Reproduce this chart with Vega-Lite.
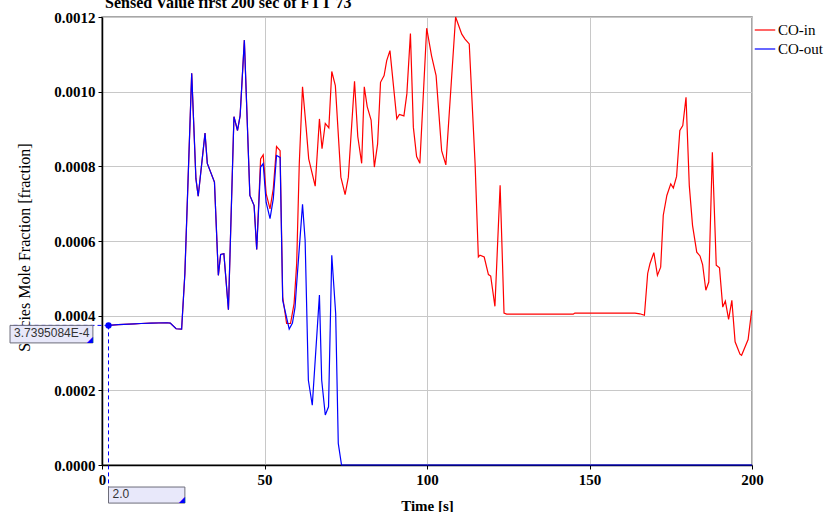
{
  "$schema": "https://vega.github.io/schema/vega-lite/v6.json",
  "width": 650,
  "height": 448,
  "autosize": {"type": "none"},
  "padding": {"left": 102, "top": 17, "right": 75, "bottom": 47},
  "background": "white",
  "title": {
    "text": "Sensed Value first 200 sec of FTT 73",
    "anchor": "start",
    "frame": "group",
    "font": "Liberation Serif",
    "fontSize": 16,
    "fontWeight": "bold",
    "color": "black",
    "baseline": "alphabetic",
    "offset": 0,
    "dy": 14,
    "dx": 3
  },
  "datasets": {
    "series": [
      {"t": 2, "v": 0.000374, "s": "CO-in"},
      {"t": 5, "v": 0.000376, "s": "CO-in"},
      {"t": 10, "v": 0.000378, "s": "CO-in"},
      {"t": 12, "v": 0.000379, "s": "CO-in"},
      {"t": 15, "v": 0.00038, "s": "CO-in"},
      {"t": 20, "v": 0.000381, "s": "CO-in"},
      {"t": 21, "v": 0.00038, "s": "CO-in"},
      {"t": 22.8, "v": 0.000365, "s": "CO-in"},
      {"t": 24.5, "v": 0.000364, "s": "CO-in"},
      {"t": 25.5, "v": 0.000513, "s": "CO-in"},
      {"t": 27.6, "v": 0.001049, "s": "CO-in"},
      {"t": 28.9, "v": 0.000767, "s": "CO-in"},
      {"t": 29.6, "v": 0.00072, "s": "CO-in"},
      {"t": 31.7, "v": 0.000889, "s": "CO-in"},
      {"t": 32.4, "v": 0.000808, "s": "CO-in"},
      {"t": 34.6, "v": 0.000758, "s": "CO-in"},
      {"t": 35.8, "v": 0.000508, "s": "CO-in"},
      {"t": 36.5, "v": 0.000564, "s": "CO-in"},
      {"t": 37.5, "v": 0.000566, "s": "CO-in"},
      {"t": 38.9, "v": 0.000416, "s": "CO-in"},
      {"t": 40.6, "v": 0.000933, "s": "CO-in"},
      {"t": 41.7, "v": 0.000896, "s": "CO-in"},
      {"t": 42.5, "v": 0.000936, "s": "CO-in"},
      {"t": 43.8, "v": 0.001138, "s": "CO-in"},
      {"t": 45.5, "v": 0.000722, "s": "CO-in"},
      {"t": 46.8, "v": 0.000695, "s": "CO-in"},
      {"t": 47.6, "v": 0.000577, "s": "CO-in"},
      {"t": 48.8, "v": 0.00082, "s": "CO-in"},
      {"t": 49.6, "v": 0.000831, "s": "CO-in"},
      {"t": 50.5, "v": 0.000727, "s": "CO-in"},
      {"t": 51.7, "v": 0.000686, "s": "CO-in"},
      {"t": 52.7, "v": 0.00074, "s": "CO-in"},
      {"t": 53.7, "v": 0.000853, "s": "CO-in"},
      {"t": 54.8, "v": 0.000842, "s": "CO-in"},
      {"t": 55.6, "v": 0.00045, "s": "CO-in"},
      {"t": 56.8, "v": 0.000379, "s": "CO-in"},
      {"t": 58, "v": 0.000379, "s": "CO-in"},
      {"t": 59.1, "v": 0.000432, "s": "CO-in"},
      {"t": 59.9, "v": 0.000539, "s": "CO-in"},
      {"t": 60.7, "v": 0.000807, "s": "CO-in"},
      {"t": 61.7, "v": 0.001013, "s": "CO-in"},
      {"t": 62.8, "v": 0.000905, "s": "CO-in"},
      {"t": 63.6, "v": 0.00082, "s": "CO-in"},
      {"t": 65.6, "v": 0.000747, "s": "CO-in"},
      {"t": 66.9, "v": 0.000927, "s": "CO-in"},
      {"t": 67.7, "v": 0.000847, "s": "CO-in"},
      {"t": 68.7, "v": 0.000915, "s": "CO-in"},
      {"t": 69.8, "v": 0.000903, "s": "CO-in"},
      {"t": 70.7, "v": 0.001054, "s": "CO-in"},
      {"t": 71.8, "v": 0.001016, "s": "CO-in"},
      {"t": 73.5, "v": 0.000771, "s": "CO-in"},
      {"t": 74.8, "v": 0.000724, "s": "CO-in"},
      {"t": 75.8, "v": 0.000771, "s": "CO-in"},
      {"t": 77.7, "v": 0.001028, "s": "CO-in"},
      {"t": 78.7, "v": 0.00088, "s": "CO-in"},
      {"t": 79.9, "v": 0.000808, "s": "CO-in"},
      {"t": 80.7, "v": 0.001013, "s": "CO-in"},
      {"t": 81.6, "v": 0.00096, "s": "CO-in"},
      {"t": 82.8, "v": 0.000924, "s": "CO-in"},
      {"t": 83.8, "v": 0.000798, "s": "CO-in"},
      {"t": 84.8, "v": 0.00086, "s": "CO-in"},
      {"t": 85.7, "v": 0.001025, "s": "CO-in"},
      {"t": 86.8, "v": 0.001043, "s": "CO-in"},
      {"t": 87.6, "v": 0.001083, "s": "CO-in"},
      {"t": 88.6, "v": 0.00111, "s": "CO-in"},
      {"t": 90.7, "v": 0.000927, "s": "CO-in"},
      {"t": 91.5, "v": 0.000939, "s": "CO-in"},
      {"t": 92.9, "v": 0.000935, "s": "CO-in"},
      {"t": 93.8, "v": 0.000994, "s": "CO-in"},
      {"t": 94.9, "v": 0.001156, "s": "CO-in"},
      {"t": 95.8, "v": 0.000905, "s": "CO-in"},
      {"t": 96.8, "v": 0.000826, "s": "CO-in"},
      {"t": 97.8, "v": 0.000808, "s": "CO-in"},
      {"t": 99.9, "v": 0.00117, "s": "CO-in"},
      {"t": 101.4, "v": 0.001096, "s": "CO-in"},
      {"t": 102.8, "v": 0.001043, "s": "CO-in"},
      {"t": 104.5, "v": 0.000842, "s": "CO-in"},
      {"t": 105.8, "v": 0.000804, "s": "CO-in"},
      {"t": 108.8, "v": 0.0012, "s": "CO-in"},
      {"t": 110.7, "v": 0.001154, "s": "CO-in"},
      {"t": 111.7, "v": 0.001141, "s": "CO-in"},
      {"t": 113, "v": 0.001128, "s": "CO-in"},
      {"t": 114.8, "v": 0.000807, "s": "CO-in"},
      {"t": 115.8, "v": 0.000557, "s": "CO-in"},
      {"t": 116.3, "v": 0.000562, "s": "CO-in"},
      {"t": 117.6, "v": 0.000557, "s": "CO-in"},
      {"t": 118.9, "v": 0.00051, "s": "CO-in"},
      {"t": 119.6, "v": 0.000506, "s": "CO-in"},
      {"t": 120.9, "v": 0.000425, "s": "CO-in"},
      {"t": 122.5, "v": 0.000749, "s": "CO-in"},
      {"t": 123.7, "v": 0.000407, "s": "CO-in"},
      {"t": 124.5, "v": 0.000404, "s": "CO-in"},
      {"t": 145, "v": 0.000404, "s": "CO-in"},
      {"t": 145.5, "v": 0.000407, "s": "CO-in"},
      {"t": 164, "v": 0.000407, "s": "CO-in"},
      {"t": 165.5, "v": 0.000405, "s": "CO-in"},
      {"t": 166.9, "v": 0.000401, "s": "CO-in"},
      {"t": 167.9, "v": 0.000513, "s": "CO-in"},
      {"t": 168.6, "v": 0.000539, "s": "CO-in"},
      {"t": 169.8, "v": 0.000569, "s": "CO-in"},
      {"t": 170.9, "v": 0.000508, "s": "CO-in"},
      {"t": 171.9, "v": 0.00053, "s": "CO-in"},
      {"t": 172.7, "v": 0.000669, "s": "CO-in"},
      {"t": 173.8, "v": 0.000722, "s": "CO-in"},
      {"t": 175, "v": 0.000753, "s": "CO-in"},
      {"t": 175.8, "v": 0.000742, "s": "CO-in"},
      {"t": 176.8, "v": 0.000773, "s": "CO-in"},
      {"t": 177.8, "v": 0.000896, "s": "CO-in"},
      {"t": 178.7, "v": 0.000909, "s": "CO-in"},
      {"t": 179.7, "v": 0.000985, "s": "CO-in"},
      {"t": 180.7, "v": 0.000749, "s": "CO-in"},
      {"t": 181.7, "v": 0.000642, "s": "CO-in"},
      {"t": 183, "v": 0.00057, "s": "CO-in"},
      {"t": 184, "v": 0.00056, "s": "CO-in"},
      {"t": 184.8, "v": 0.000537, "s": "CO-in"},
      {"t": 185.8, "v": 0.000468, "s": "CO-in"},
      {"t": 186.7, "v": 0.00049, "s": "CO-in"},
      {"t": 187.8, "v": 0.000838, "s": "CO-in"},
      {"t": 189, "v": 0.000535, "s": "CO-in"},
      {"t": 190, "v": 0.000528, "s": "CO-in"},
      {"t": 191, "v": 0.000423, "s": "CO-in"},
      {"t": 191.8, "v": 0.000439, "s": "CO-in"},
      {"t": 192.8, "v": 0.00039, "s": "CO-in"},
      {"t": 193.8, "v": 0.000441, "s": "CO-in"},
      {"t": 194.8, "v": 0.00033, "s": "CO-in"},
      {"t": 196.3, "v": 0.000297, "s": "CO-in"},
      {"t": 196.8, "v": 0.000294, "s": "CO-in"},
      {"t": 198.8, "v": 0.000336, "s": "CO-in"},
      {"t": 199.9, "v": 0.000414, "s": "CO-in"},
      {"t": 2, "v": 0.000374, "s": "CO-out"},
      {"t": 5, "v": 0.000376, "s": "CO-out"},
      {"t": 10, "v": 0.000378, "s": "CO-out"},
      {"t": 12, "v": 0.000379, "s": "CO-out"},
      {"t": 15, "v": 0.00038, "s": "CO-out"},
      {"t": 20, "v": 0.000381, "s": "CO-out"},
      {"t": 21, "v": 0.00038, "s": "CO-out"},
      {"t": 22.8, "v": 0.000365, "s": "CO-out"},
      {"t": 24.5, "v": 0.000364, "s": "CO-out"},
      {"t": 25.5, "v": 0.000513, "s": "CO-out"},
      {"t": 27.6, "v": 0.001049, "s": "CO-out"},
      {"t": 28.9, "v": 0.000767, "s": "CO-out"},
      {"t": 29.6, "v": 0.00072, "s": "CO-out"},
      {"t": 31.7, "v": 0.000889, "s": "CO-out"},
      {"t": 32.4, "v": 0.000808, "s": "CO-out"},
      {"t": 34.6, "v": 0.000758, "s": "CO-out"},
      {"t": 35.8, "v": 0.000508, "s": "CO-out"},
      {"t": 36.5, "v": 0.000564, "s": "CO-out"},
      {"t": 37.5, "v": 0.000566, "s": "CO-out"},
      {"t": 38.9, "v": 0.000416, "s": "CO-out"},
      {"t": 40.6, "v": 0.000933, "s": "CO-out"},
      {"t": 41.7, "v": 0.000896, "s": "CO-out"},
      {"t": 42.5, "v": 0.000936, "s": "CO-out"},
      {"t": 43.8, "v": 0.001138, "s": "CO-out"},
      {"t": 45.5, "v": 0.000722, "s": "CO-out"},
      {"t": 46.8, "v": 0.000695, "s": "CO-out"},
      {"t": 47.6, "v": 0.000577, "s": "CO-out"},
      {"t": 48.8, "v": 0.000798, "s": "CO-out"},
      {"t": 49.6, "v": 0.000807, "s": "CO-out"},
      {"t": 50.5, "v": 0.000704, "s": "CO-out"},
      {"t": 51.7, "v": 0.00066, "s": "CO-out"},
      {"t": 52.7, "v": 0.000713, "s": "CO-out"},
      {"t": 53.7, "v": 0.000829, "s": "CO-out"},
      {"t": 54.8, "v": 0.000824, "s": "CO-out"},
      {"t": 55.6, "v": 0.000441, "s": "CO-out"},
      {"t": 57.6, "v": 0.000364, "s": "CO-out"},
      {"t": 58.6, "v": 0.00038, "s": "CO-out"},
      {"t": 59.4, "v": 0.000423, "s": "CO-out"},
      {"t": 59.9, "v": 0.000486, "s": "CO-out"},
      {"t": 61.7, "v": 0.000698, "s": "CO-out"},
      {"t": 62.5, "v": 0.000602, "s": "CO-out"},
      {"t": 63.5, "v": 0.000227, "s": "CO-out"},
      {"t": 64.7, "v": 0.00016, "s": "CO-out"},
      {"t": 66.9, "v": 0.000455, "s": "CO-out"},
      {"t": 67.6, "v": 0.000227, "s": "CO-out"},
      {"t": 68.7, "v": 0.000134, "s": "CO-out"},
      {"t": 69.7, "v": 0.000156, "s": "CO-out"},
      {"t": 70.7, "v": 0.000562, "s": "CO-out"},
      {"t": 71.9, "v": 0.000406, "s": "CO-out"},
      {"t": 72.7, "v": 0.000058, "s": "CO-out"},
      {"t": 73.7, "v": 0, "s": "CO-out"},
      {"t": 85, "v": 0, "s": "CO-out"},
      {"t": 200, "v": 0, "s": "CO-out"}
    ],
    "cursor": [
      {"t": 2, "v": 0.00037395084, "tl": "2.0", "vl": "3.7395084E-4"}
    ]
  },
  "layer": [
    {
      "data": {"name": "series"},
      "mark": {"type": "line", "strokeWidth": 1.2, "interpolate": "linear"},
      "encoding": {
        "x": {
          "field": "t", "type": "quantitative",
          "scale": {"domain": [0, 200], "nice": false, "zero": false},
          "axis": {"values": [0, 50, 100, 150, 200], "title": "Time [s]", "titleY": 40, "titleBaseline": "middle", "labelFlush": false}
        },
        "y": {
          "field": "v", "type": "quantitative",
          "scale": {"domain": [0, 0.0012], "nice": false, "zero": false},
          "axis": {"values": [0, 0.0002, 0.0004, 0.0006, 0.0008, 0.001, 0.0012], "format": ".4f", "title": "Species Mole Fraction [fraction]", "titleX": -78, "titleY": 230, "titleBaseline": "middle", "titleAngle": -90, "titleFontWeight": "normal", "titleFontSize": 16}
        },
        "color": {
          "field": "s", "type": "nominal",
          "scale": {"domain": ["CO-in", "CO-out"], "range": ["#ff0000", "#0000ff"]},
          "legend": {
            "title": null, "orient": "none", "legendX": 652, "legendY": 2,
            "symbolType": "stroke", "symbolSize": 420, "symbolStrokeWidth": 1.2,
            "labelFont": "Liberation Serif", "labelFontSize": 15, "labelColor": "black",
            "rowPadding": -3, "labelOffset": 2
          }
        }
      }
    },
    {
      "data": {"name": "cursor"},
      "mark": {"type": "rule", "color": "#0000ff", "strokeDash": [4, 3], "strokeWidth": 1},
      "encoding": {
        "x": {"field": "t", "type": "quantitative"},
        "x2": {"datum": -28.3},
        "y": {"field": "v", "type": "quantitative"}
      }
    },
    {
      "data": {"name": "cursor"},
      "mark": {"type": "rule", "color": "#0000ff", "strokeDash": [4, 3], "strokeWidth": 1},
      "encoding": {
        "x": {"field": "t", "type": "quantitative"},
        "y": {"field": "v", "type": "quantitative"},
        "y2": {"datum": -0.000059}
      }
    },
    {
      "data": {"name": "cursor"},
      "mark": {"type": "rect", "fill": "#e8e8fa", "stroke": "#6d6d7a", "strokeWidth": 1},
      "encoding": {
        "x": {"datum": -28.3, "type": "quantitative"},
        "x2": {"datum": -2.8},
        "y": {"field": "v", "type": "quantitative"},
        "y2": {"datum": 0.000327}
      }
    },
    {
      "data": {"name": "cursor"},
      "mark": {"type": "rect", "fill": "#e8e8fa", "stroke": "#6d6d7a", "strokeWidth": 1},
      "encoding": {
        "x": {"field": "t", "type": "quantitative"},
        "x2": {"datum": 25.5},
        "y": {"datum": -0.000059, "type": "quantitative"},
        "y2": {"datum": -0.000102}
      }
    },
    {
      "data": {"name": "cursor"},
      "mark": {"type": "text", "font": "DejaVu Sans", "fontSize": 8, "color": "#0000ff", "align": "right", "baseline": "bottom", "dx": 0, "dy": 1, "text": "◢"},
      "encoding": {
        "x": {"datum": -2.8, "type": "quantitative"},
        "y": {"datum": 0.000327, "type": "quantitative"}
      }
    },
    {
      "data": {"name": "cursor"},
      "mark": {"type": "text", "font": "DejaVu Sans", "fontSize": 8, "color": "#0000ff", "align": "right", "baseline": "bottom", "dx": 0, "dy": 1, "text": "◢"},
      "encoding": {
        "x": {"datum": 25.5, "type": "quantitative"},
        "y": {"datum": -0.000102, "type": "quantitative"}
      }
    },
    {
      "data": {"name": "cursor"},
      "mark": {"type": "text", "font": "Liberation Sans", "fontSize": 12, "color": "#333333", "align": "left", "baseline": "top", "dx": 4, "dy": 3},
      "encoding": {
        "x": {"datum": -28.3, "type": "quantitative"},
        "y": {"field": "v", "type": "quantitative"},
        "text": {"field": "vl"}
      }
    },
    {
      "data": {"name": "cursor"},
      "mark": {"type": "text", "font": "Liberation Sans", "fontSize": 12, "color": "#333333", "align": "left", "baseline": "top", "dx": 4, "dy": 2},
      "encoding": {
        "x": {"field": "t", "type": "quantitative"},
        "y": {"datum": -0.000059, "type": "quantitative"},
        "text": {"field": "tl"}
      }
    },
    {
      "data": {"name": "cursor"},
      "mark": {"type": "point", "filled": true, "color": "#0000ff", "size": 40, "opacity": 1},
      "encoding": {
        "x": {"field": "t", "type": "quantitative"},
        "y": {"field": "v", "type": "quantitative"}
      }
    }
  ],
  "config": {
    "view": {"stroke": "#8a8a8a", "strokeWidth": 1.5},
    "axis": {
      "labelFont": "Liberation Serif", "labelFontSize": 15, "labelFontWeight": "bold", "labelColor": "black",
      "titleFont": "Liberation Serif", "titleFontSize": 15, "titleFontWeight": "bold", "titleColor": "black",
      "domainColor": "black", "domainWidth": 1.5, "tickColor": "black", "tickSize": 4, "labelPadding": 3,
      "gridColor": "#c8c8c8", "gridWidth": 1, "grid": true
    }
  }
}
